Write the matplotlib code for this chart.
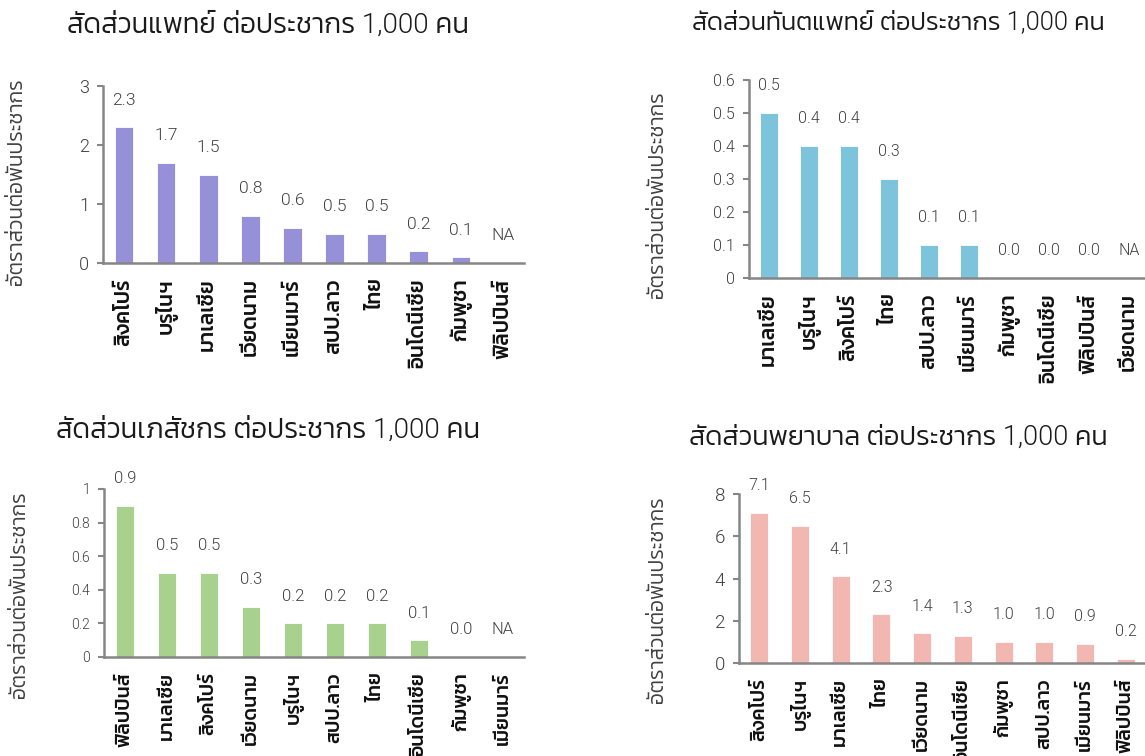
import numpy as np
import matplotlib
matplotlib.use("Agg")
import matplotlib.pyplot as plt

# ---- data ----
title_doc = "สัดส่วนแพทย์ ต่อประชากร 1,000 คน"
cats_doc = ["สิงคโปร์", "บรูไนฯ", "มาเลเซีย", "เวียดนาม", "เมียนมาร์", "สปป.ลาว", "ไทย", "อินโดนีเซีย", "กัมพูชา", "ฟิลิปปินส์"]
vals_doc = [2.3, 1.7, 1.5, 0.8, 0.6, 0.5, 0.5, 0.2, 0.1, None]
yticks_doc = [0, 1, 2, 3]

title_den = "สัดส่วนทันตแพทย์ ต่อประชากร 1,000 คน"
cats_den = ["มาเลเซีย", "บรูไนฯ", "สิงคโปร์", "ไทย", "สปป.ลาว", "เมียนมาร์", "กัมพูชา", "อินโดนีเซีย", "ฟิลิปปินส์", "เวียดนาม"]
vals_den = [0.5, 0.4, 0.4, 0.3, 0.1, 0.1, 0.0, 0.0, 0.0, None]
yticks_den = [0, 0.1, 0.2, 0.3, 0.4, 0.5, 0.6]

title_pha = "สัดส่วนเภสัชกร ต่อประชากร 1,000 คน"
cats_pha = ["ฟิลิปปินส์", "มาเลเซีย", "สิงคโปร์", "เวียดนาม", "บรูไนฯ", "สปป.ลาว", "ไทย", "อินโดนีเซีย", "กัมพูชา", "เมียนมาร์"]
vals_pha = [0.9, 0.5, 0.5, 0.3, 0.2, 0.2, 0.2, 0.1, 0.0, None]
yticks_pha = [0, 0.2, 0.4, 0.6, 0.8, 1]

title_nur = "สัดส่วนพยาบาล ต่อประชากร 1,000 คน"
cats_nur = ["สิงคโปร์", "บรูไนฯ", "มาเลเซีย", "ไทย", "เวียดนาม", "อินโดนีเซีย", "กัมพูชา", "สปป.ลาว", "เมียนมาร์", "ฟิลิปปินส์"]
vals_nur = [7.1, 6.5, 4.1, 2.3, 1.4, 1.3, 1.0, 1.0, 0.9, 0.2]
yticks_nur = [0, 2, 4, 6, 8]

ylabel = "อัตราส่วนต่อพันประชากร"

FAM = ['Roboto', 'Kanit', 'DejaVu Sans']
plt.rcParams['font.family'] = FAM

fig = plt.figure(figsize=(11.45, 7.56), dpi=100)

W, H = 1145.0, 756.0
def rect(l, t, r, b):
    return [l / W, 1 - b / H, (r - l) / W, (b - t) / H]

panels = [
    dict(title=title_doc, cats=cats_doc, vals=vals_doc, yt=yticks_doc, color="#9590D8",
         rect=rect(103, 86, 524, 263), tpos=(268, 25), ylpos=(17, 182), tfs=13, vfs=12.5, ttl=20, xfs=15),
    dict(title=title_den, cats=cats_den, vals=vals_den, yt=yticks_den, color="#7CC3DB",
         rect=rect(749, 80, 1149, 278), tpos=(898, 22), ylpos=(657, 195), tfs=11.5, vfs=11.5, ttl=18.3, xfs=15),
    dict(title=title_pha, cats=cats_pha, vals=vals_pha, yt=yticks_pha, color="#A9D18E",
         rect=rect(104, 489, 524, 657), tpos=(268, 430), ylpos=(20, 595), tfs=10, vfs=12, ttl=20, xfs=14),
    dict(title=title_nur, cats=cats_nur, vals=vals_nur, yt=yticks_nur, color="#F2B7B1",
         rect=rect(739, 494, 1146, 663), tpos=(898, 437), ylpos=(657, 600), tfs=13.5, vfs=11.5, ttl=19.5, xfs=14),
]

for p in panels:
    ax = fig.add_axes(p['rect'])
    x = np.arange(len(p['cats']))
    v = np.array([np.nan if a is None else a for a in p['vals']], dtype=float)
    ax.bar(x, np.nan_to_num(v), width=0.44, color=p['color'], edgecolor='white', linewidth=0.6, zorder=2)
    ax.set_xlim(-0.5, len(x) - 0.5)
    ax.set_ylim(p['yt'][0], p['yt'][-1])
    ax.set_yticks(p['yt'])
    ax.set_yticklabels([("%g" % t) for t in p['yt']], fontsize=p['tfs'], color='#404040', fontweight=300)
    ax.set_xticks(x)
    ax.set_xticklabels(p['cats'], rotation=90, fontsize=p['xfs'], fontweight=500, color='#111111',
                       va='top', ha='center', family=['Kanit', 'DejaVu Sans'])
    ax.tick_params(axis='x', length=0, pad=11)
    ax.tick_params(axis='y', length=4, width=1.5, color='#868686', pad=6)
    for s in ['top', 'right']:
        ax.spines[s].set_visible(False)
    for s in ['left', 'bottom']:
        ax.spines[s].set_color('#868686')
        ax.spines[s].set_linewidth(1.8)
    for i, val in enumerate(v):
        txt = "NA" if np.isnan(val) else "%.1f" % val
        yy = 0 if np.isnan(val) else val
        ax.annotate(txt, xy=(i, yy), xytext=(0, 19.5), textcoords='offset points',
                    ha='center', va='center', fontsize=p['vfs'], color='#404040', fontweight=300)
    fig.text(p['tpos'][0] / W, 1 - p['tpos'][1] / H, p['title'], ha='center', va='center',
             fontsize=p['ttl'], color='#1a1a1a', fontweight=300)
    fig.text(p['ylpos'][0] / W, 1 - p['ylpos'][1] / H, ylabel, rotation=90, ha='center', va='center',
             fontsize=15, color='#404040', fontweight=300)

fig.savefig("out.png", dpi=100)
